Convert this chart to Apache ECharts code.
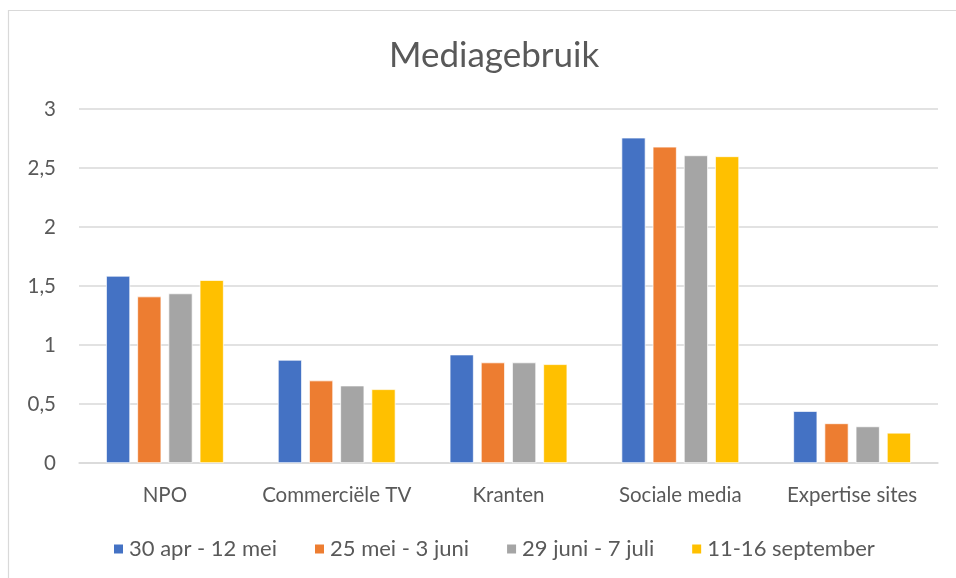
<!DOCTYPE html>
<html>
<head>
<meta charset="utf-8">
<script src="https://cdn.jsdelivr.net/npm/echarts@6/dist/echarts.min.js"></script>
<style>
html,body{margin:0;padding:0;background:#fff;}
#chart{width:956px;height:578px;}
</style>
</head>
<body>
<div id="chart"></div>
<script>
const title = "Mediagebruik";
const categories = ["NPO", "Commerciële TV", "Kranten", "Sociale media", "Expertise sites"];
const seriesNames = ["30 apr - 12 mei", "25 mei - 3 juni", "29 juni - 7 juli", "11-16 september"];
const serie1 = [1.586, 0.874, 0.919, 2.757, 0.44];
const serie2 = [1.411, 0.699, 0.852, 2.680, 0.336];
const serie3 = [1.437, 0.656, 0.852, 2.607, 0.31];
const serie4 = [1.550, 0.625, 0.837, 2.599, 0.256];
const colors = ["#4472C4", "#ED7D31", "#A5A5A5", "#FFC000"];
const yTicks = [0, 0.5, 1, 1.5, 2, 2.5, 3];

const allSeries = [serie1, serie2, serie3, serie4];
const fontFamily = "Lato, 'Noto Sans', sans-serif";
const chart = echarts.init(document.getElementById('chart'), null, {renderer: 'canvas'});
chart.setOption({
  animation: false,
  color: colors,
  graphic: [{
    type: 'rect',
    shape: {x: 8.5, y: 10.5, width: 1000, height: 700},
    style: {fill: 'none', stroke: '#D9D9D9', lineWidth: 1.2},
    silent: true, z: -1
  }],
  title: {
    text: title,
    left: 384,
    top: 33,
    textStyle: {fontFamily: fontFamily, fontSize: 35, fontWeight: 'normal', color: '#595959'}
  },
  legend: {
    data: seriesNames,
    top: 533,
    left: 107,
    itemWidth: 11,
    itemHeight: 11,
    itemGap: 36,
    icon: 'rect',
    textStyle: {fontFamily: fontFamily, fontSize: 22, color: '#595959', padding: [0, 0, 0, 0]}
  },
  grid: {left: 79, right: 18, top: 109, bottom: 115, containLabel: false},
  xAxis: {
    type: 'category',
    data: categories,
    axisTick: {show: false},
    axisLine: {lineStyle: {color: '#D9D9D9', width: 1.5}},
    axisLabel: {fontFamily: fontFamily, fontSize: 20.5, color: '#595959', margin: 22, interval: 0, hideOverlap: false}
  },
  yAxis: {
    type: 'value',
    min: yTicks[0],
    max: yTicks[yTicks.length - 1],
    interval: 0.5,
    axisLine: {show: false},
    axisTick: {show: false},
    splitLine: {lineStyle: {color: '#D9D9D9', width: 1.5}},
    axisLabel: {
      fontFamily: fontFamily, fontSize: 20.5, color: '#595959', margin: 23,
      formatter: v => String(v).replace('.', ',')
    }
  },
  series: allSeries.map((d, i) => ({
    name: seriesNames[i],
    type: 'bar',
    data: d,
    barWidth: 24,
    barGap: '30%',
    itemStyle: {color: colors[i], borderColor: '#ffffff', borderWidth: 0.7}
  }))
});
</script>
</body>
</html>
